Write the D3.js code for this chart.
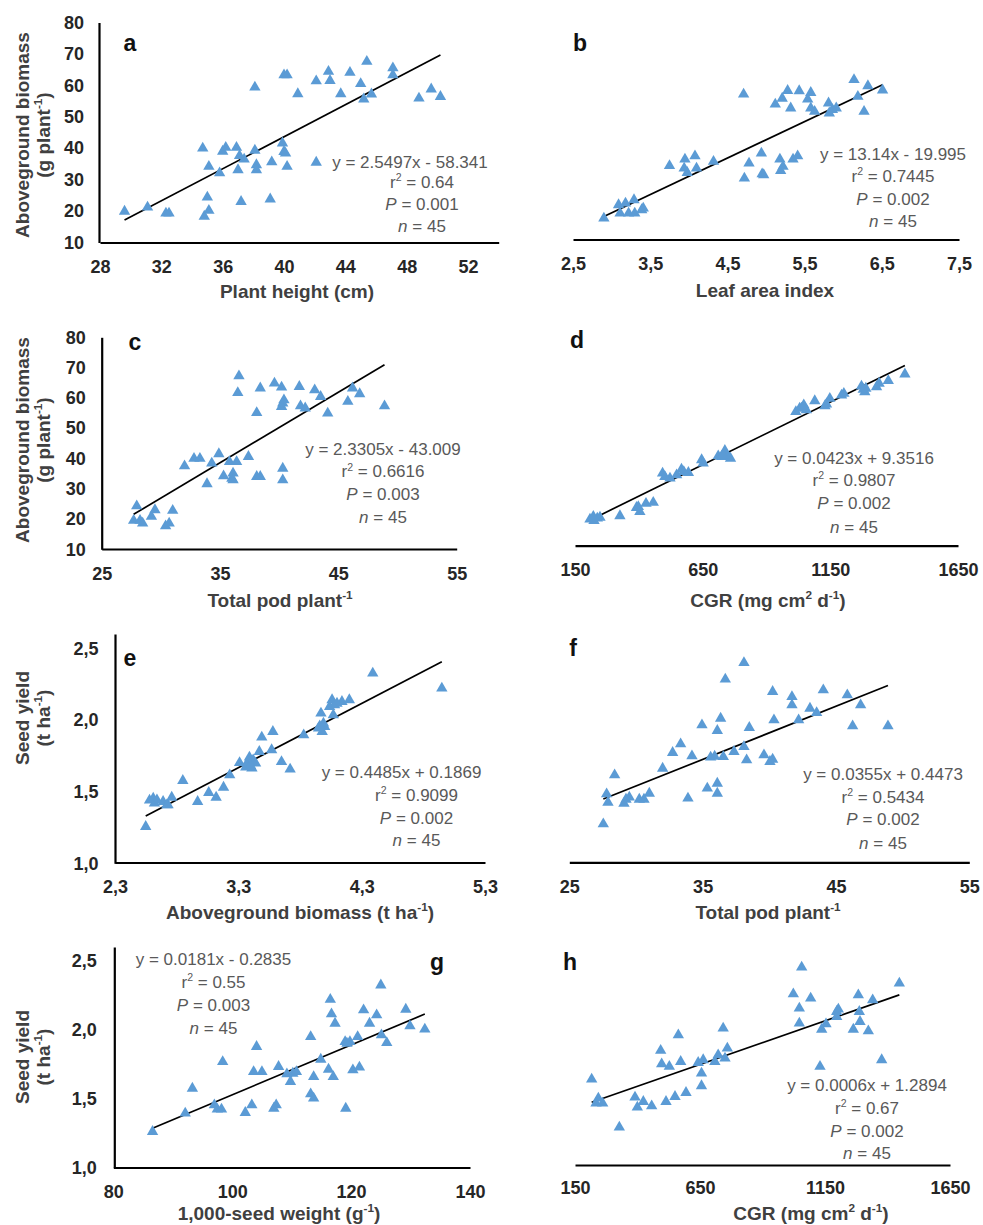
<!DOCTYPE html>
<html>
<head>
<meta charset="utf-8">
<script src="https://cdn.jsdelivr.net/npm/d3@7"></script>
<style>
  body { margin: 0; background: #fff; }
  svg { display: block; font-family: "Liberation Sans", Arial, sans-serif; }
</style>
</head>
<body>
<svg id="chart" width="983" height="1225"></svg>
<script>
// --- data (45 plots per panel) ---

// a: plant height vs aboveground biomass
const heightA = [29.6, 31.1, 32.3, 32.5, 34.7, 34.8, 35.0, 35.1, 35.1, 35.8, 36.0, 36.2, 36.9, 37.1, 37.0, 37.2, 37.4, 38.1, 38.1, 38.2, 38.2, 39.1, 39.2, 39.9, 40.0, 40.0, 40.2, 40.1, 40.2, 40.9, 42.1, 42.1, 42.9, 43.0, 43.7, 44.3, 45.0, 45.2, 45.4, 45.7, 47.1, 47.1, 48.8, 49.6, 50.2];
const biomassA = [19.9, 21.2, 19.3, 19.3, 40.0, 18.3, 24.4, 20.2, 34.2, 32.1, 39.0, 40.2, 40.2, 37.6, 33.1, 23.0, 36.5, 59.4, 39.3, 34.7, 33.1, 23.8, 35.6, 41.6, 38.9, 63.3, 63.3, 38.4, 34.2, 57.3, 35.5, 61.4, 64.4, 61.5, 57.3, 64.1, 60.5, 55.6, 67.6, 57.2, 65.5, 63.3, 55.9, 58.8, 56.4];

// b: leaf area index vs aboveground biomass
const laiB = [2.90, 3.09, 3.11, 3.18, 3.22, 3.29, 3.30, 3.39, 3.41, 3.75, 3.95, 3.98, 4.08, 4.10, 4.32, 4.71, 4.72, 4.78, 4.94, 4.95, 4.97, 5.12, 5.18, 5.19, 5.21, 5.28, 5.32, 5.35, 5.41, 5.43, 5.54, 5.58, 5.58, 5.63, 5.81, 5.82, 5.91, 6.14, 6.19, 6.27, 6.32, 6.51, 5.22, 3.94, 5.86];
const biomassB = [17.5, 22.3, 19.3, 22.9, 19.3, 24.1, 19.3, 20.5, 21.1, 36.4, 38.7, 33.9, 39.9, 35.5, 37.9, 62.1, 31.9, 37.3, 40.9, 33.4, 33.1, 58.5, 38.7, 34.6, 60.6, 63.4, 57.1, 38.7, 39.9, 63.3, 60.3, 62.7, 57.1, 55.9, 58.9, 55.3, 57.1, 67.3, 61.3, 55.9, 65.1, 63.6, 36.1, 35.5, 56.5];

// c: total pods per plant vs aboveground biomass
const podsC = [27.7, 27.96, 28.24, 28.46, 29.2, 29.5, 30.4, 30.7, 31.0, 32.0, 32.8, 33.3, 33.9, 34.3, 34.9, 35.3, 35.8, 36.0, 36.1, 36.4, 36.5, 36.6, 37.4, 38.1, 38.1, 38.4, 38.4, 39.6, 40.2, 40.3, 40.2, 40.3, 40.3, 41.7, 41.8, 42.2, 43.0, 43.5, 44.1, 45.8, 46.2, 46.8, 48.9, 36.1, 40.4];
const biomassC = [19.5, 24.3, 19.5, 18.6, 20.8, 23.0, 17.7, 18.6, 22.8, 37.5, 40.0, 40.0, 31.6, 38.4, 41.5, 34.2, 38.9, 33.4, 35.1, 38.9, 61.7, 67.2, 40.6, 55.1, 34.0, 34.0, 63.2, 64.8, 63.5, 58.2, 57.1, 36.7, 32.9, 63.7, 57.3, 56.6, 62.6, 60.4, 54.9, 58.8, 63.2, 61.3, 57.3, 32.9, 59.3];

// d: CGR vs aboveground biomass
const cgrD = [208.7, 224.4, 237.4, 247.8, 326, 391, 404, 428, 456.5, 493, 522, 548, 567, 594, 646, 652, 711, 724, 737, 746, 759, 1015, 1030, 1046, 1056, 1089, 1135, 1148, 1194, 1203, 1272, 1285, 1289, 1331, 1341, 1377, 1442, 221.7, 398, 502, 576, 730, 1037, 1129, 1279];
const biomassD = [18.45, 18.0, 18.8, 19.1, 19.6, 22.4, 21.0, 23.8, 24.1, 34.0, 32.3, 33.4, 35.3, 34.2, 38.5, 37.4, 39.8, 39.6, 41.6, 39.6, 39.0, 54.7, 55.9, 57.0, 55.3, 58.4, 57.3, 59.2, 60.3, 60.9, 63.3, 61.4, 62.6, 63.1, 64.3, 65.2, 67.4, 19.4, 22.7, 32.8, 34.5, 40.1, 55.9, 56.7, 62.2];

// e: aboveground biomass (t/ha) vs seed yield
const biomassE = [2.549, 2.61, 2.62, 2.69, 2.73, 2.76, 2.85, 2.97, 3.06, 3.12, 3.18, 3.23, 3.31, 3.36, 3.39, 3.41, 3.44, 3.47, 3.49, 3.57, 3.58, 3.65, 3.72, 3.83, 3.95, 3.97, 3.98, 4.00, 4.06, 4.07, 4.08, 4.14, 4.20, 4.39, 4.95, 2.64, 3.37, 3.42, 3.99, 4.04, 2.58, 2.72, 3.40, 4.10, 3.96];
const yieldE = [1.256, 1.453, 1.419, 1.430, 1.407, 1.460, 1.577, 1.430, 1.493, 1.460, 1.530, 1.616, 1.702, 1.670, 1.740, 1.663, 1.698, 1.779, 1.879, 1.791, 1.919, 1.709, 1.656, 1.895, 1.942, 2.047, 1.919, 1.953, 2.140, 2.035, 2.105, 2.128, 2.140, 2.326, 2.221, 1.442, 1.698, 1.721, 1.977, 2.093, 1.440, 1.407, 1.679, 2.116, 1.958];

// f: total pods per plant vs seed yield
const podsF = [27.55, 27.8, 27.9, 28.4, 29.1, 29.25, 29.5, 30.25, 30.6, 31.0, 32.0, 32.75, 33.35, 33.9, 34.2, 34.95, 35.35, 35.6, 36.1, 36.1, 36.1, 36.35, 36.55, 36.7, 37.35, 38.1, 38.1, 38.3, 38.5, 39.6, 40.05, 40.25, 40.25, 40.35, 41.7, 41.7, 42.2, 43.05, 43.55, 44.05, 45.85, 46.25, 46.85, 48.9, 35.9];
const yieldF = [1.258, 1.459, 1.403, 1.586, 1.396, 1.423, 1.437, 1.423, 1.423, 1.463, 1.630, 1.735, 1.793, 1.430, 1.713, 1.920, 1.497, 1.704, 1.530, 1.463, 1.882, 1.964, 1.708, 2.225, 1.742, 2.336, 1.775, 1.686, 1.902, 1.719, 1.675, 1.690, 2.143, 1.953, 2.109, 2.053, 1.953, 2.031, 2.002, 2.154, 2.120, 1.913, 2.053, 1.913, 1.710];

// g: 1,000-seed weight vs seed yield
const seedWtG = [86.6, 92.1, 93.3, 97.0, 97.5, 98.2, 98.4, 102.2, 103.3, 103.6, 104.1, 105.0, 107.0, 107.4, 107.8, 109.2, 109.8, 110.2, 110.8, 113.2, 113.2, 113.7, 113.7, 114.9, 116.2, 116.5, 116.7, 117.0, 117.3, 119.0, 119.1, 119.8, 120.3, 121.1, 121.4, 122.1, 123.1, 124.3, 125.0, 125.1, 126.0, 129.2, 129.9, 132.4, 119.3];
const yieldG = [1.259, 1.392, 1.573, 1.452, 1.421, 1.421, 1.767, 1.397, 1.452, 1.694, 1.876, 1.694, 1.428, 1.452, 1.731, 1.677, 1.622, 1.682, 1.694, 1.948, 1.532, 1.501, 1.658, 1.784, 1.711, 2.219, 2.113, 1.658, 2.045, 1.912, 1.428, 1.912, 1.707, 1.948, 1.726, 2.142, 2.045, 2.106, 2.323, 1.961, 1.905, 2.147, 2.026, 2.002, 1.900];

// h: CGR vs seed yield
const cgrH = [216.7, 243.3, 234, 260.7, 327.3, 390, 399.3, 423.3, 456.7, 492.7, 496.7, 514, 527.3, 550, 563.3, 572.7, 594, 642.7, 656, 656, 662.7, 709.3, 722.7, 742.7, 750, 759.3, 1023.3, 1047.3, 1047.3, 1056.7, 1092.7, 1130, 1136.7, 1154, 1196.7, 1203.3, 1263.3, 1283.3, 1287.3, 1290, 1323.3, 1340.7, 1376.7, 1447.3, 1196.7];
const yieldH = [1.578, 1.447, 1.413, 1.413, 1.248, 1.454, 1.385, 1.424, 1.394, 1.775, 1.683, 1.424, 1.665, 1.458, 1.882, 1.699, 1.486, 1.692, 1.619, 1.532, 1.711, 1.699, 1.745, 1.928, 1.722, 1.791, 2.164, 2.066, 1.963, 2.348, 2.135, 1.665, 1.921, 1.958, 2.008, 2.059, 1.921, 2.157, 2.043, 1.974, 1.910, 2.123, 1.711, 2.238, 2.043];

// regression coefficients [slope, intercept] and the printed stats
const fitA = [2.5497, -58.341], statsA = ['y = 2.5497x - 58.341', '0.64', '0.001', '45'];
const fitB = [13.14, -19.995], statsB = ['y = 13.14x - 19.995', '0.7445', '0.002', '45'];
const fitC = [2.3305, -43.009], statsC = ['y = 2.3305x - 43.009', '0.6616', '0.003', '45'];
const fitD = [0.0423, 9.3516], statsD = ['y = 0.0423x + 9.3516', '0.9807', '0.002', '45'];
const fitE = [0.4485, 0.1869], statsE = ['y = 0.4485x + 0.1869', '0.9099', '0.002', '45'];
const fitF = [0.0355, 0.4473], statsF = ['y = 0.0355x + 0.4473', '0.5434', '0.002', '45'];
const fitG = [0.0181, -0.2835], statsG = ['y = 0.0181x - 0.2835', '0.55', '0.003', '45'];
const fitH = [0.0006, 1.2894], statsH = ['y = 0.0006x + 1.2894', '0.67', '0.002', '45'];

// tick values
const ticksHeight = [28, 32, 36, 40, 44, 48, 52];
const ticksLai = [2.5, 3.5, 4.5, 5.5, 6.5, 7.5];
const ticksPods = [25, 35, 45, 55];
const ticksCgr = [150, 650, 1150, 1650];
const ticksBiomassTha = [2.3, 3.3, 4.3, 5.3];
const ticksSeedWt = [80, 100, 120, 140];
const ticksBiomassG = [10, 20, 30, 40, 50, 60, 70, 80];
const ticksYield = [1.0, 1.5, 2.0, 2.5];

// --- drawing ---
const svg = d3.select('#chart');
const comma = d => d3.format('.1f')(d).replace('.', ',');
const plain = d => String(d);

const TICK_COLOR = '#262626';
const TITLE_COLOR = '#404040';
const EQ_COLOR = '#595959';
const MARK_COLOR = '#5b9bd5';

// writes text made of plain and superscript pieces; fs is the base font size
function richText(sel, parts, fs) {
  const rise = fs * 0.38;
  let raised = false;
  parts.forEach(p => {
    const ts = sel.append('tspan').text(p.t);
    if (p.sup) {
      ts.attr('font-size', fs * 0.62).attr('dy', raised ? 0 : -rise);
      raised = true;
    } else if (raised) {
      ts.attr('dy', rise);
      raised = false;
    }
  });
}

const panels = [
  {id: 'a', xs: heightA, ys: biomassA, fit: fitA, stats: statsA,
    xDomain: [28, 54], xRange: [100, 498.7], yDomain: [10, 80], yRange: [242.5, 22.5],
    xAxisY: 242.5, xTicks: ticksHeight, xFmt: plain, xLabelOff: 24,
    yAxisX: 99, yTicks: ticksBiomassG, yFmt: plain, yPad: 15,
    xTitle: [{t: 'Plant height (cm)'}], xTitlePos: [297, 291],
    yTitle: [[{t: 'Aboveground biomass'}], [{t: '(g plant'}, {t: '-1', sup: true}, {t: ')'}]], yTitleY: 135,
    letter: [130, 43], eq: {x: 410, cx: 422, y: [162, 182, 204, 226.5]}},
  {id: 'b', xs: laiB, ys: biomassB, fit: fitB, stats: statsB,
    xDomain: [2.5, 7.5], xRange: [573, 959], yDomain: [10, 80], yRange: [239.1, 44.5],
    xAxisY: 239.5, xTicks: ticksLai, xFmt: comma, xLabelOff: 24,
    xTitle: [{t: 'Leaf area index'}], xTitlePos: [765, 290],
    letter: [580, 43], eq: {x: 893, cx: 893, y: [154, 176, 199, 221.5]}},
  {id: 'c', xs: podsC, ys: biomassC, fit: fitC, stats: statsC,
    xDomain: [25, 55], xRange: [101.7, 456.7], yDomain: [10, 80], yRange: [549.3, 337.3],
    xAxisY: 549, xTicks: ticksPods, xFmt: plain, xLabelOff: 24.5,
    yAxisX: 101.7, yTicks: ticksBiomassG, yFmt: plain, yPad: 16,
    xTitle: [{t: 'Total pod plant'}, {t: '-1', sup: true}], xTitlePos: [280, 600],
    yTitle: [[{t: 'Aboveground biomass'}], [{t: '(g plant'}, {t: '-1', sup: true}, {t: ')'}]], yTitleY: 440,
    letter: [135, 342], eq: {x: 383, cx: 383, y: [449, 471.5, 494, 517]}},
  {id: 'd', xs: cgrD, ys: biomassD, fit: fitD, stats: statsD,
    xDomain: [150, 1650], xRange: [575, 958], yDomain: [10, 80], yRange: [544.4, 336.8],
    xAxisY: 545.7, xTicks: ticksCgr, xFmt: plain, xLabelOff: 23.5,
    xTitle: [{t: 'CGR (mg cm'}, {t: '2', sup: true}, {t: ' d'}, {t: '-1', sup: true}, {t: ')'}], xTitlePos: [768, 600],
    letter: [577, 340], eq: {x: 854, cx: 854, y: [457.7, 480, 502.7, 526.7]}},
  {id: 'e', xs: biomassE, ys: yieldE, fit: fitE, stats: statsE,
    xDomain: [2.3, 5.3], xRange: [115, 485], yDomain: [1.0, 2.6], yRange: [863.3, 634],
    xAxisY: 862.5, xTicks: ticksBiomassTha, xFmt: comma, xLabelOff: 24.5,
    yAxisX: 115, yTicks: ticksYield, yFmt: comma, yPad: 16.5,
    xTitle: [{t: 'Aboveground biomass (t ha'}, {t: '-1', sup: true}, {t: ')'}], xTitlePos: [300, 912],
    yTitle: [[{t: 'Seed yield'}], [{t: '(t ha'}, {t: '-1', sup: true}, {t: ')'}]], yTitleY: 718,
    letter: [130, 658], eq: {x: 401.5, cx: 416.5, y: [772.3, 795, 818.3, 840]}},
  {id: 'f', xs: podsF, ys: yieldF, fit: fitF, stats: statsF,
    xDomain: [25, 55], xRange: [569.3, 969.3], yDomain: [1.0, 2.6], yRange: [862.7, 623.2],
    xAxisY: 862.3, xTicks: ticksPods, xFmt: plain, xLabelOff: 24.5,
    xTitle: [{t: 'Total pod plant'}, {t: '-1', sup: true}], xTitlePos: [768, 912],
    letter: [573, 648], eq: {x: 883, cx: 883, y: [774, 796.7, 819.3, 842.7]}},
  {id: 'g', xs: seedWtG, ys: yieldG, fit: fitG, stats: statsG,
    xDomain: [80, 140], xRange: [113.3, 470], yDomain: [1.0, 2.6], yRange: [1167.3, 947],
    xAxisY: 1167.5, xTicks: ticksSeedWt, xFmt: plain, xLabelOff: 24.5,
    yAxisX: 114.3, yTicks: ticksYield, yFmt: comma, yPad: 17.5,
    xTitle: [{t: '1,000-seed weight (g'}, {t: '-1', sup: true}, {t: ')'}], xTitlePos: [279, 1213],
    yTitle: [[{t: 'Seed yield'}], [{t: '(t ha'}, {t: '-1', sup: true}, {t: ')'}]], yTitleY: 1057,
    letter: [437, 962], eq: {x: 213.5, cx: 213.5, y: [959.3, 981.7, 1005, 1028.3]}},
  {id: 'h', xs: cgrH, ys: yieldH, fit: fitH, stats: statsH,
    xDomain: [150, 1650], xRange: [575, 950], yDomain: [1.0, 2.6], yRange: [1163.3, 930.6],
    xAxisY: 1165, xTicks: ticksCgr, xFmt: plain, xLabelOff: 23,
    xTitle: [{t: 'CGR (mg cm'}, {t: '2', sup: true}, {t: ' d'}, {t: '-1', sup: true}, {t: ')'}], xTitlePos: [811, 1213],
    letter: [570, 962], eq: {x: 867, cx: 867, y: [1085, 1107.7, 1130.7, 1153.3]}}
];

function drawPanel(p) {
  const x = d3.scaleLinear().domain(p.xDomain).range(p.xRange);
  const y = d3.scaleLinear().domain(p.yDomain).range(p.yRange);
  const g = svg.append('g').attr('class', 'panel-' + p.id);

  // x axis: bold line, no tick marks
  const xAxis = g.append('g')
      .attr('transform', 'translate(0,' + p.xAxisY + ')')
      .call(d3.axisBottom(x).tickValues(p.xTicks).tickFormat(p.xFmt)
          .tickSize(0).tickPadding(p.xLabelOff - 6.3));
  xAxis.select('.domain').attr('stroke', '#000').attr('stroke-width', 2.2);
  xAxis.selectAll('text').attr('font-size', 18).attr('font-weight', 'bold')
      .attr('fill', TICK_COLOR).attr('font-family', null);
  xAxis.selectAll('.tick line').remove();

  if (p.yAxisX !== undefined) {
    const yAxis = g.append('g')
        .attr('transform', 'translate(' + p.yAxisX + ',0)')
        .call(d3.axisLeft(y).tickValues(p.yTicks).tickFormat(p.yFmt)
            .tickSize(0).tickPadding(p.yPad));
    yAxis.select('.domain').attr('stroke', '#000').attr('stroke-width', 2.2);
    yAxis.selectAll('text').attr('font-size', 18).attr('font-weight', 'bold')
        .attr('fill', TICK_COLOR).attr('font-family', null);
    yAxis.selectAll('.tick line').remove();

    // two-line rotated y title
    p.yTitle.forEach((parts, i) => {
      const t = g.append('text')
          .attr('transform', 'translate(' + (22 + i * 21) + ',' + p.yTitleY + ') rotate(-90)')
          .attr('text-anchor', 'middle').attr('dy', '0.35em')
          .attr('font-size', 19).attr('font-weight', 'bold').attr('fill', TITLE_COLOR);
      richText(t, parts, 19);
    });
  }

  // x title
  const xt = g.append('text')
      .attr('x', p.xTitlePos[0]).attr('y', p.xTitlePos[1])
      .attr('text-anchor', 'middle').attr('dy', '0.35em')
      .attr('font-size', 19).attr('font-weight', 'bold').attr('fill', TITLE_COLOR);
  richText(xt, p.xTitle, 19);

  // trend line over the data range
  const ext = d3.extent(p.xs);
  const line = d3.line().x(d => x(d)).y(d => y(p.fit[0] * d + p.fit[1]));
  g.append('path').datum(ext).attr('d', line)
      .attr('fill', 'none').attr('stroke', '#000').attr('stroke-width', 1.7);

  // triangle markers
  const sym = d3.symbol().type(d3.symbolTriangle).size(56);
  g.selectAll('.pt').data(d3.zip(p.xs, p.ys))
      .enter().append('path')
      .attr('class', 'pt')
      .attr('transform', d => 'translate(' + x(d[0]) + ',' + y(d[1]) + ')')
      .attr('d', sym)
      .attr('fill', MARK_COLOR);

  // panel letter
  g.append('text').attr('x', p.letter[0]).attr('y', p.letter[1]).attr('dy', '0.35em')
      .attr('text-anchor', 'middle').attr('font-size', 23).attr('font-weight', 'bold')
      .attr('fill', '#111').text(p.id);

  // regression stats
  const eq = p.eq;
  const st = p.stats;
  const eqText = (cx, cy) => g.append('text').attr('x', cx).attr('y', cy).attr('dy', '0.35em')
      .attr('text-anchor', 'middle').attr('font-size', 17).attr('fill', EQ_COLOR);
  eqText(eq.x, eq.y[0]).text(st[0]);
  richText(eqText(eq.cx, eq.y[1]), [{t: 'r'}, {t: '2', sup: true}, {t: ' = ' + st[1]}], 17);
  const pt = eqText(eq.cx, eq.y[2]);
  pt.append('tspan').attr('font-style', 'italic').text('P');
  pt.append('tspan').text(' = ' + st[2]);
  const nt = eqText(eq.cx, eq.y[3]);
  nt.append('tspan').attr('font-style', 'italic').text('n');
  nt.append('tspan').text(' = ' + st[3]);
}

panels.forEach(drawPanel);
</script>
</body>
</html>
